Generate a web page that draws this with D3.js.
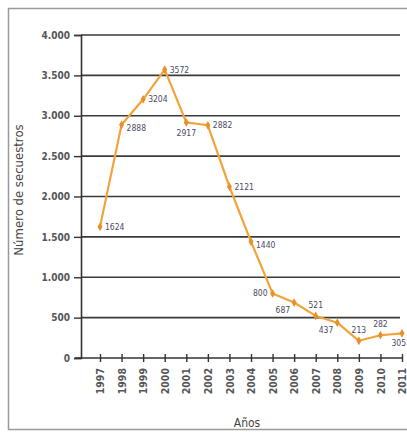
<!DOCTYPE html>
<html>
<head>
<meta charset="utf-8">
<script src="https://cdn.jsdelivr.net/npm/d3@7"></script>
<style>
  body { margin: 0; background: #fff; }
  text { font-family: "DejaVu Sans", sans-serif; font-stretch: condensed; }
</style>
</head>
<body>
<svg width="407" height="432"></svg>
<script>
// datos
const years = ['1997', '1998', '1999', '2000', '2001', '2002', '2003', '2004', '2005', '2006', '2007', '2008', '2009', '2010', '2011']
const secuestros = [1624, 2888, 3204, 3572, 2917, 2882, 2121, 1440, 800, 687, 521, 437, 213, 282, 305]
const yTicks = [0, 500, 1000, 1500, 2000, 2500, 3000, 3500, 4000]
// where each value label sits relative to its point
const labelPos = ['r', 'rb', 'r', 'r', 'b', 'r', 'r', 'rb', 'l', 'lb', 'a', 'lb', 'a', 'a', 'e']

let svg = d3.select('svg')

svg.append('rect')
    .attr('x', 8.5).attr('y', 8.5)
    .attr('width', 420).attr('height', 421)
    .attr('fill', '#fff')
    .attr('stroke', '#9a9a9a')
    .attr('stroke-width', 1.5)

let x = d3.scalePoint()
    .domain(years)
    .range([100, 402])

let y = d3.scaleLinear()
    .domain([0, 4000])
    .range([358, 35])

let fmt = d => d3.format(',')(d).replace(/,/g, '.')

// grid
svg.append('g')
  .selectAll('line')
  .data(yTicks.filter(d => d > 0))
  .enter().append('line')
    .attr('x1', 81).attr('x2', 400)
    .attr('y1', d => y(d)).attr('y2', d => y(d))
    .attr('stroke', '#3a3a3a')
    .attr('stroke-width', 1.6)

// y axis
let yAxis = svg.append('g')
    .attr('transform', 'translate(81,0)')
    .call(d3.axisLeft(y).tickValues(yTicks).tickSize(7).tickPadding(4).tickFormat(fmt))
yAxis.select('.domain').attr('stroke', '#333').attr('stroke-width', 1.6)
yAxis.selectAll('.tick line').attr('stroke', '#333').attr('stroke-width', 1.4)
yAxis.selectAll('.tick text')
    .attr('fill', '#555')
    .attr('font-size', 10)
    .attr('font-weight', 'bold')

// x axis
let xAxis = svg.append('g')
    .attr('transform', 'translate(0,358)')
    .call(d3.axisBottom(x).tickSize(0).tickPadding(0))
xAxis.select('.domain').attr('d', 'M75,0H403').attr('stroke', '#333').attr('stroke-width', 1.6)
xAxis.selectAll('.tick').append('line')
    .attr('y1', -4).attr('y2', 4)
    .attr('stroke', '#333').attr('stroke-width', 1.4)
xAxis.selectAll('.tick text')
    .attr('transform', 'rotate(-90)')
    .attr('x', -10).attr('y', 0).attr('dy', '0.35em')
    .attr('text-anchor', 'end')
    .attr('fill', '#555')
    .attr('font-size', 10.5)
    .attr('font-weight', 'bold')

// line
let line = d3.line()
    .x((d, i) => x(years[i]))
    .y(d => y(d))

svg.append('path')
    .datum(secuestros)
    .attr('d', line)
    .attr('fill', 'none')
    .attr('stroke', '#f2a33a')
    .attr('stroke-width', 2.2)
    .attr('stroke-linejoin', 'round')

svg.append('g')
  .selectAll('path')
  .data(secuestros)
  .enter().append('path')
    .attr('d', d3.symbol().type(d3.symbolDiamond).size(22))
    .attr('transform', (d, i) => 'translate(' + x(years[i]) + ',' + y(d) + ')')
    .attr('fill', '#e8902a')

// value labels
let off = {
  r: [5, 3, 'start'], rb: [5, 6, 'start'], l: [-5, 3, 'end'], lb: [-4, 10, 'end'],
  b: [0, 14, 'middle'], a: [0, -8, 'middle'], e: [4, 13, 'end']
}
svg.append('g')
  .selectAll('text')
  .data(secuestros)
  .enter().append('text')
    .attr('x', (d, i) => x(years[i]) + off[labelPos[i]][0])
    .attr('y', (d, i) => y(d) + off[labelPos[i]][1])
    .attr('text-anchor', (d, i) => off[labelPos[i]][2])
    .attr('fill', '#4a4a66')
    .attr('font-size', 8.5)
    .text(d => d)

// titles
svg.append('text')
    .attr('x', 247).attr('y', 427)
    .attr('text-anchor', 'middle')
    .attr('fill', '#444')
    .attr('font-size', 12)
    .text('Años')

svg.append('text')
    .attr('transform', 'translate(23,190) rotate(-90)')
    .attr('text-anchor', 'middle')
    .attr('fill', '#444')
    .attr('font-size', 13)
    .text('Número de secuestros')
</script>
</body>
</html>
